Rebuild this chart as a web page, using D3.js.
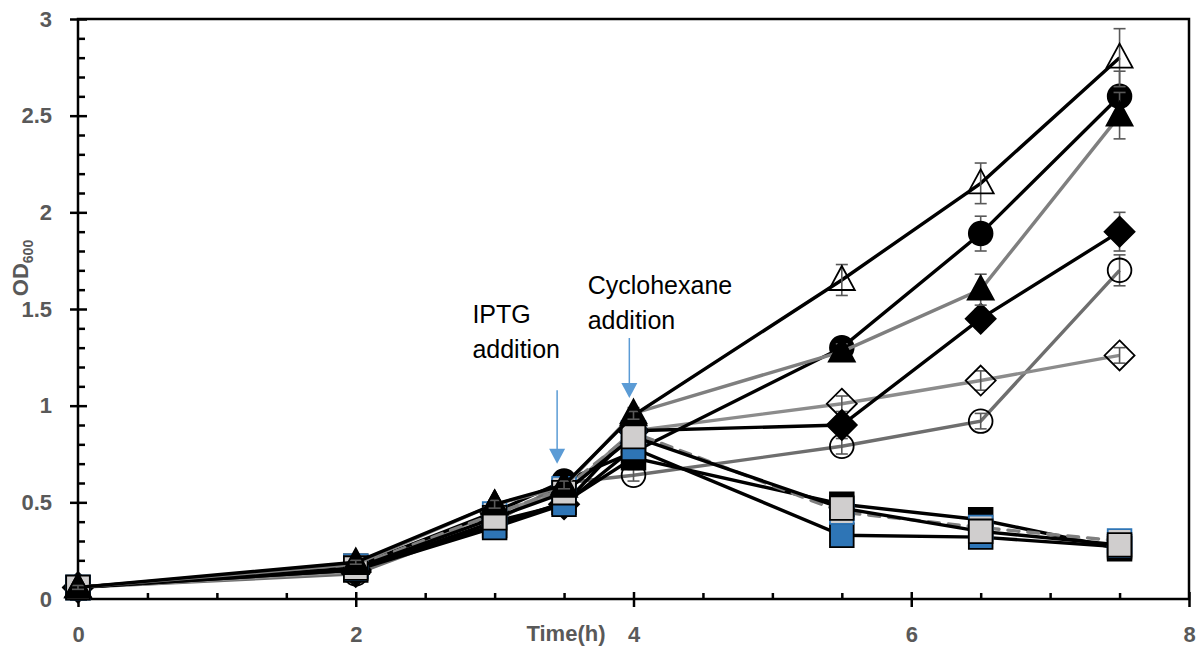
<!DOCTYPE html>
<html>
<head>
<meta charset="utf-8">
<script src="https://cdn.jsdelivr.net/npm/d3@7"></script>
<style>
  body { margin: 0; background: #fff; }
  svg text { font-family: "Liberation Sans", Arial, sans-serif; }
</style>
</head>
<body>
<div id="chart"></div>
<script>
// datos (OD600 frente a tiempo)
var times = [0, 2, 3, 3.5, 4, 5.5, 6.5, 7.5];

var openTriangle   = [0.06, 0.19, 0.49, 0.59, 0.95, 1.65, 2.15, 2.80];
var openTriangleE  = [0.01, 0.01, 0.02, 0.02, 0.02, 0.08, 0.105, 0.15];
var filledCircle   = [0.06, 0.17, 0.45, 0.61, 0.76, 1.30, 1.89, 2.60];
var filledCircleE  = [0.01, 0.01, 0.02, 0.02, 0.02, 0.05, 0.09, 0.13];
var filledTriangle = [0.06, 0.18, 0.49, 0.58, 0.96, 1.28, 1.60, 2.50];
var filledTriangleE= [0.01, 0.01, 0.02, 0.02, 0.03, 0.04, 0.08, 0.12];
var filledDiamond  = [0.06, 0.15, 0.40, 0.49, 0.87, 0.90, 1.45, 1.90];
var filledDiamondE = [0.01, 0.01, 0.02, 0.02, 0.02, 0.03, 0.05, 0.10];
var openDiamond    = [0.06, 0.14, 0.45, 0.55, 0.87, 1.01, 1.13, 1.26];
var openDiamondE   = [0.01, 0.01, 0.02, 0.02, 0.02, 0.04, 0.05, 0.04];
var openCircle     = [0.06, 0.13, 0.40, 0.60, 0.64, 0.79, 0.92, 1.70];
var openCircleE    = [0.01, 0.01, 0.02, 0.02, 0.03, 0.04, 0.04, 0.08];
var blackSquare    = [0.06, 0.17, 0.38, 0.50, 0.73, 0.49, 0.41, 0.26];
var blueSquare     = [0.06, 0.15, 0.37, 0.49, 0.78, 0.33, 0.32, 0.27];
var greySquare     = [0.06, 0.16, 0.42, 0.55, 0.84, 0.47, 0.35, 0.28];
var greyBlueSquare = [0.06, 0.17, 0.44, 0.57, 0.86, 0.45, 0.37, 0.30];
var smallE         = [0.01, 0.01, 0.01, 0.01, 0.02, 0.02, 0.02, 0.02];

var xMajor = [0, 2, 4, 6, 8];
var xMajorLabels = ["0", "2", "4", "6", "8"];
var xMinor = [0.5, 1, 1.5, 2.5, 3, 3.5, 4.5, 5, 5.5, 6.5, 7, 7.5];
var yMajor = [0, 0.5, 1, 1.5, 2, 2.5, 3];
var yMajorLabels = ["0", "0.5", "1", "1.5", "2", "2.5", "3"];
var yMinor = d3.range(0, 31).filter(function(i){ return i % 5 != 0; }).map(function(i){ return i / 10; });

// anotaciones: texto y flechas (en unidades de los ejes)
var notes = [
  {lines: ["IPTG", "addition"], t: 2.84, v: 1.43, at: 3.45, from: 1.08, to: 0.70},
  {lines: ["Cyclohexane", "addition"], t: 3.67, v: 1.58, at: 3.97, from: 1.35, to: 1.04}
];

// series en el orden de dibujo (la ultima queda encima)
var series = [
  {vals: openCircle, err: openCircleE, shape: "circle", fill: "none", stroke: "#000", line: "#6e6e6e"},
  {vals: openDiamond, err: openDiamondE, shape: "diamond", fill: "none", stroke: "#000", line: "#8c8c8c"},
  {vals: filledDiamond, err: filledDiamondE, shape: "diamond", fill: "#000", stroke: "#000", line: "#000"},
  {vals: filledCircle, err: filledCircleE, shape: "circle", fill: "#000", stroke: "#000", line: "#000"},
  {vals: blackSquare, err: smallE, shape: "square", fill: "#000", stroke: "#000", line: "#000"},
  {vals: blueSquare, err: smallE, shape: "square", fill: "#2e75b6", stroke: "#000", line: "#000"},
  {vals: greyBlueSquare, err: smallE, shape: "square", fill: "#d0cece", stroke: "#2e75b6", line: "#7f7f7f", dash: "11,9"},
  {vals: greySquare, err: smallE, shape: "square", fill: "#d0cece", stroke: "#000", line: "#000"},
  {vals: filledTriangle, err: filledTriangleE, shape: "triangle", fill: "#000", stroke: "#000", line: "#7f7f7f"},
  {vals: openTriangle, err: openTriangleE, shape: "triangle", fill: "none", stroke: "#000", line: "#000"}
];

var margin = {top: 19, right: 12, bottom: 48, left: 78},
    w = 1201 - margin.left - margin.right,
    h = 647 - margin.top - margin.bottom;

var x = d3.scaleLinear().domain([0, 8]).range([0, w]);
var y = d3.scaleLinear().domain([0, 3]).range([h, 0]);

var svg = d3.select("#chart").append("svg")
  .attr("width", 1201).attr("height", 647)
  .append("g")
  .attr("transform", "translate(" + margin.left + "," + margin.top + ")");

//ejes
function estilo(g) {
  g.select(".domain").remove();
  g.selectAll("line").attr("stroke", "#000").attr("stroke-width", 2.5);
  g.selectAll("text").attr("fill", "#595959").style("font-size", "22px").style("font-weight", "bold");
}

svg.append("g").attr("transform", "translate(0," + h + ")")
  .call(d3.axisBottom(x).tickValues(xMajor).tickSize(8).tickPadding(19)
    .tickFormat(function(d, i){ return xMajorLabels[i]; }))
  .call(estilo);
svg.append("g").attr("transform", "translate(0," + h + ")")
  .call(d3.axisTop(x).tickValues(xMajor).tickSize(7).tickFormat(""))
  .call(estilo);
svg.append("g").attr("transform", "translate(0," + h + ")")
  .call(d3.axisTop(x).tickValues(xMinor).tickSize(6).tickFormat(""))
  .call(estilo);

svg.append("g")
  .call(d3.axisLeft(y).tickValues(yMajor).tickSize(8).tickPadding(18)
    .tickFormat(function(d, i){ return yMajorLabels[i]; }))
  .call(estilo);
svg.append("g")
  .call(d3.axisRight(y).tickValues(yMajor).tickSize(9).tickFormat(""))
  .call(estilo);
svg.append("g")
  .call(d3.axisRight(y).tickValues(yMinor).tickSize(7).tickFormat(""))
  .call(estilo);

// marco
svg.append("rect").attr("x", 0).attr("y", 0).attr("width", w).attr("height", h)
  .attr("fill", "none").attr("stroke", "#000").attr("stroke-width", 2.5);

// titulos de los ejes
svg.append("text")
  .attr("x", 488).attr("y", h + 42)
  .attr("text-anchor", "middle")
  .attr("fill", "#595959").style("font-size", "22px").style("font-weight", "bold")
  .text("Time(h)");

var yt = svg.append("text")
  .attr("transform", "translate(" + (-50) + "," + (268 - margin.top) + ") rotate(-90)")
  .attr("text-anchor", "middle")
  .attr("fill", "#595959").style("font-size", "22px").style("font-weight", "bold");
yt.append("tspan").text("OD");
yt.append("tspan").attr("dy", 5).style("font-size", "14px").text("600");

// anotaciones
notes.forEach(function(n) {
  n.lines.forEach(function(l, i) {
    svg.append("text")
      .attr("x", x(n.t)).attr("y", y(n.v) + i * 35)
      .attr("fill", "#000").style("font-size", "25px")
      .text(l);
  });
  var ax = x(n.at), y0 = y(n.from), y1 = y(n.to);
  svg.append("line").attr("x1", ax).attr("x2", ax).attr("y1", y0).attr("y2", y1 - 14)
    .attr("stroke", "#5b9bd5").attr("stroke-width", 1.5);
  svg.append("path")
    .attr("d", "M" + (ax - 8) + "," + (y1 - 15) + "L" + (ax + 8) + "," + (y1 - 15) + "L" + ax + "," + y1 + "Z")
    .attr("fill", "#5b9bd5");
});

var linea = d3.line()
  .x(function(d){ return x(d.t); })
  .y(function(d){ return y(d.v); });

function simbolo(shape) {
  if (shape == "circle") return d3.symbol().type(d3.symbolCircle).size(440)();
  if (shape == "square") return d3.symbol().type(d3.symbolSquare).size(560)();
  if (shape == "diamond") return "M0,-15L15,0L0,15L-15,0Z";
  return "M0,-14L13,10L-13,10Z";
}

series.forEach(function(s) {
  var pts = times.map(function(t, i){ return {t: t, v: s.vals[i], e: s.err[i]}; });
  var g = svg.append("g");

  g.append("path")
    .attr("d", linea(pts))
    .attr("fill", "none")
    .attr("stroke", s.line)
    .attr("stroke-width", 3.4)
    .attr("stroke-linecap", s.dash ? "round" : "butt")
    .attr("stroke-dasharray", s.dash || null);

  //barras de error
  var eb = g.selectAll(".eb").data(pts).enter().append("g").attr("class", "eb")
    .attr("stroke", "#595959").attr("stroke-width", 1.6);
  eb.append("line")
    .attr("x1", function(d){ return x(d.t); }).attr("x2", function(d){ return x(d.t); })
    .attr("y1", function(d){ return y(d.v + d.e); }).attr("y2", function(d){ return y(d.v - d.e); });
  eb.append("line")
    .attr("x1", function(d){ return x(d.t) - 6; }).attr("x2", function(d){ return x(d.t) + 6; })
    .attr("y1", function(d){ return y(d.v + d.e); }).attr("y2", function(d){ return y(d.v + d.e); });
  eb.append("line")
    .attr("x1", function(d){ return x(d.t) - 6; }).attr("x2", function(d){ return x(d.t) + 6; })
    .attr("y1", function(d){ return y(d.v - d.e); }).attr("y2", function(d){ return y(d.v - d.e); });

  g.selectAll(".mk").data(pts).enter().append("path").attr("class", "mk")
    .attr("transform", function(d){ return "translate(" + x(d.t) + "," + y(d.v) + ")"; })
    .attr("d", simbolo(s.shape))
    .attr("fill", s.fill)
    .attr("stroke", s.stroke)
    .attr("stroke-width", 1.8);
});
</script>
</body>
</html>
